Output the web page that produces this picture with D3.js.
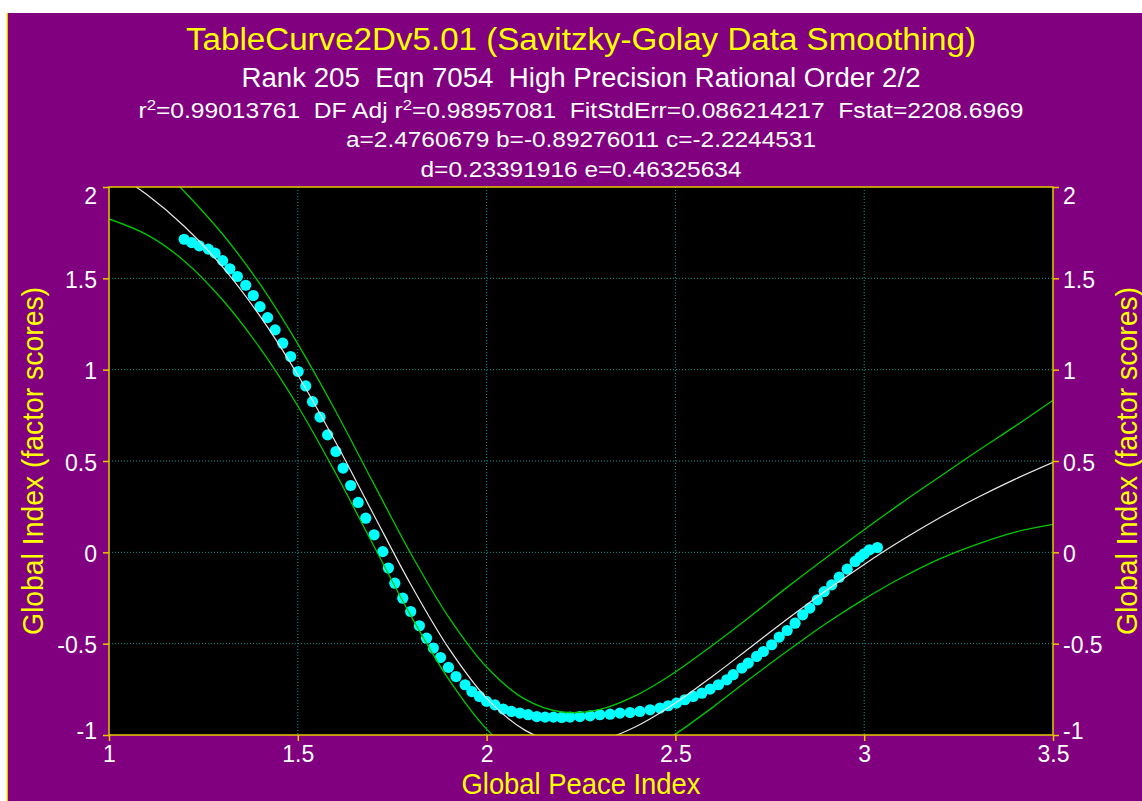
<!DOCTYPE html>
<html>
<head>
<meta charset="utf-8">
<script src="https://cdnjs.cloudflare.com/ajax/libs/d3/7.8.5/d3.min.js"></script>
<style>
  body { margin: 0; background: #ffffff; }
  svg text { font-family: "Liberation Sans", Arial, sans-serif; }
</style>
</head>
<body>
<div id="wrapper"></div>
<script>
// tick values and labels
const xTicks = [1, 1.5, 2, 2.5, 3, 3.5];
const xTickLabels = ["1", "1.5", "2", "2.5", "3", "3.5"];
const yTicks = [-1, -0.5, 0, 0.5, 1, 1.5, 2];
const yTickLabels = ["-1", "-0.5", "0", "0.5", "1", "1.5", "2"];

// smoothed data points (cyan)
const smoothX = [1.199, 1.219, 1.239, 1.263, 1.281, 1.301, 1.320, 1.340, 1.362, 1.382, 1.400, 1.420, 1.440, 1.460, 1.481, 1.501, 1.521, 1.539, 1.559, 1.579, 1.601, 1.620, 1.640, 1.660, 1.680, 1.702,
  1.725, 1.740, 1.757, 1.778, 1.799, 1.822, 1.841, 1.859, 1.878, 1.899, 1.919, 1.943, 1.961, 1.981, 2.000,
  2.022, 2.044, 2.066, 2.088, 2.110, 2.133, 2.155, 2.177, 2.199, 2.221,
  2.247, 2.274, 2.300, 2.327, 2.353, 2.380, 2.406, 2.433, 2.459,
  2.481, 2.503, 2.525, 2.547, 2.570, 2.592, 2.614, 2.636, 2.653, 2.676, 2.693, 2.715, 2.733, 2.755,
  2.775, 2.796, 2.817, 2.837, 2.856, 2.876, 2.894, 2.914, 2.934, 2.955, 2.976, 2.989, 3.000, 3.014, 3.035];
const smoothY = [1.714, 1.696, 1.678, 1.660, 1.638, 1.597, 1.552, 1.510, 1.462, 1.406, 1.345, 1.285, 1.218, 1.145, 1.072, 0.990, 0.911, 0.825, 0.740, 0.643, 0.552, 0.461, 0.366, 0.273, 0.187, 0.096,
  0.004, -0.086, -0.169, -0.251, -0.324, -0.402, -0.470, -0.524, -0.576, -0.630, -0.680, -0.725, -0.762, -0.789, -0.816,
  -0.835, -0.858, -0.871, -0.880, -0.889, -0.899, -0.902, -0.902, -0.904, -0.902,
  -0.899, -0.895, -0.889, -0.886, -0.880, -0.877, -0.871, -0.862, -0.853,
  -0.840, -0.825, -0.807, -0.789, -0.771, -0.749, -0.725, -0.698, -0.670, -0.634, -0.606, -0.570, -0.543, -0.506,
  -0.464, -0.428, -0.388, -0.342, -0.305, -0.260, -0.215, -0.178, -0.136, -0.092, -0.050, -0.026, -0.008, 0.014, 0.026];

// fitted curve (white) and its limits (green)
const curveX = [1.0, 1.1, 1.2, 1.3, 1.4, 1.5, 1.6, 1.7, 1.8, 1.9, 2.0, 2.1, 2.2, 2.3, 2.4, 2.5, 2.6, 2.7, 2.8, 2.9, 3.0, 3.1, 3.2, 3.3, 3.4, 3.5];
const fitY = [2.095, 1.959, 1.784, 1.564, 1.293, 0.971, 0.604, 0.210, -0.179, -0.526, -0.798, -0.972, -1.044, -1.030, -0.949, -0.825, -0.676, -0.518, -0.360, -0.208, -0.066, 0.067, 0.189, 0.300, 0.401, 0.493];
const upperY = [2.365, 2.179, 1.974, 1.744, 1.468, 1.141, 0.774, 0.380, -0.009, -0.356, -0.628, -0.802, -0.874, -0.860, -0.779, -0.655, -0.506, -0.348, -0.185, -0.028, 0.124, 0.272, 0.414, 0.555, 0.691, 0.833];
const lowerY = [1.825, 1.739, 1.594, 1.384, 1.118, 0.801, 0.434, 0.040, -0.349, -0.696, -0.968, -1.142, -1.214, -1.200, -1.119, -0.995, -0.846, -0.688, -0.535, -0.388, -0.256, -0.138, -0.036, 0.045, 0.111, 0.153];

const yellow = "#ffff00";
const axisColor = "#e8c800";
const sp = "\u00a0"; // the header keeps its double spaces

function drawChart() {
  const dimensions = {
    width: 1142,
    height: 801,
    margin: { top: 187, right: 89, bottom: 66, left: 109 },
  };
  dimensions.boundedWidth = dimensions.width - dimensions.margin.left - dimensions.margin.right;
  dimensions.boundedHeight = dimensions.height - dimensions.margin.top - dimensions.margin.bottom;
  const cx = dimensions.margin.left + dimensions.boundedWidth / 2;

  const svg = d3.select("#wrapper").append("svg")
    .attr("width", dimensions.width)
    .attr("height", dimensions.height)
    .style("display", "block");

  // purple panel
  svg.append("rect")
    .attr("x", 7).attr("y", 13)
    .attr("width", dimensions.width - 7).attr("height", dimensions.height - 13)
    .attr("fill", "#800080");
  svg.append("line")
    .attr("x1", 7).attr("x2", 7).attr("y1", 13).attr("y2", dimensions.height)
    .attr("stroke", yellow).attr("stroke-width", 1.5);

  // header text
  const header = svg.append("g").attr("text-anchor", "middle");
  header.append("text")
    .attr("x", cx).attr("y", 50)
    .attr("fill", yellow).attr("font-size", 31)
    .attr("textLength", 790).attr("lengthAdjust", "spacingAndGlyphs")
    .text("TableCurve2Dv5.01 (Savitzky-Golay Data Smoothing)");
  header.append("text")
    .attr("x", cx).attr("y", 87)
    .attr("fill", "white").attr("font-size", 27)
    .attr("textLength", 679).attr("lengthAdjust", "spacingAndGlyphs")
    .text(`Rank 205${sp} Eqn 7054${sp} High Precision Rational Order 2/2`);

  const statParts = [
    ["r", false], ["2", true], [`=0.99013761${sp} DF Adj r`, false], ["2", true],
    [`=0.98957081${sp} FitStdErr=0.086214217${sp} Fstat=2208.6969`, false],
  ];
  const stats = header.append("text")
    .attr("x", cx).attr("y", 118)
    .attr("fill", "white").attr("font-size", 22)
    .attr("textLength", 885).attr("lengthAdjust", "spacingAndGlyphs");
  let raised = false;
  statParts.forEach(([t, sup]) => {
    const shift = sup === raised ? 0 : (sup ? -8 : 8);
    raised = sup;
    stats.append("tspan")
      .attr("dy", shift)
      .attr("font-size", sup ? 15 : 22)
      .text(t);
  });

  header.append("text")
    .attr("x", cx).attr("y", 147)
    .attr("fill", "white").attr("font-size", 22)
    .attr("textLength", 470).attr("lengthAdjust", "spacingAndGlyphs")
    .text("a=2.4760679 b=-0.89276011 c=-2.2244531");
  header.append("text")
    .attr("x", cx).attr("y", 177)
    .attr("fill", "white").attr("font-size", 22)
    .attr("textLength", 321).attr("lengthAdjust", "spacingAndGlyphs")
    .text("d=0.23391916 e=0.46325634");

  const bounds = svg.append("g")
    .attr("transform", `translate(${dimensions.margin.left},${dimensions.margin.top})`);

  const xScale = d3.scaleLinear()
    .domain([1, 3.5])
    .range([0, dimensions.boundedWidth]);
  const yScale = d3.scaleLinear()
    .domain([-1, 2])
    .range([dimensions.boundedHeight, 0]);

  bounds.append("rect")
    .attr("width", dimensions.boundedWidth)
    .attr("height", dimensions.boundedHeight)
    .attr("fill", "black");

  bounds.append("clipPath").attr("id", "plotClip")
    .append("rect")
    .attr("width", dimensions.boundedWidth)
    .attr("height", dimensions.boundedHeight);

  // dotted grid
  const grid = bounds.append("g")
    .attr("stroke", "#009a9a").attr("stroke-width", 1).attr("stroke-dasharray", "1,2");
  grid.selectAll(".gx").data(xTicks.slice(1, -1)).join("line")
    .attr("x1", d => xScale(d)).attr("x2", d => xScale(d))
    .attr("y1", 0).attr("y2", dimensions.boundedHeight);
  grid.selectAll(".gy").data(yTicks.slice(1, -1)).join("line")
    .attr("y1", d => yScale(d)).attr("y2", d => yScale(d))
    .attr("x1", 0).attr("x2", dimensions.boundedWidth);

  const plot = bounds.append("g").attr("clip-path", "url(#plotClip)");

  // smoothed points
  const points = d3.zip(smoothX, smoothY);
  plot.selectAll("circle").data(points).join("circle")
    .attr("cx", d => xScale(d[0]))
    .attr("cy", d => yScale(d[1]))
    .attr("r", 5.6)
    .attr("fill", "#00ffff");

  const lineGenerator = ys => d3.line()
    .x((d, i) => xScale(curveX[i]))
    .y(d => yScale(d))
    .curve(d3.curveCatmullRom)(ys);

  plot.append("path")
    .attr("d", lineGenerator(upperY))
    .attr("fill", "none").attr("stroke", "#00c800").attr("stroke-width", 1.3);
  plot.append("path")
    .attr("d", lineGenerator(lowerY))
    .attr("fill", "none").attr("stroke", "#00c800").attr("stroke-width", 1.3);
  plot.append("path")
    .attr("d", lineGenerator(fitY))
    .attr("fill", "none").attr("stroke", "#e8e8e8").attr("stroke-width", 1.2);

  // axes
  const yAxisLeft = d3.axisLeft(yScale)
    .tickValues(yTicks).tickSize(6).tickPadding(6)
    .tickFormat((d, i) => yTickLabels[i]);
  const yAxisRight = d3.axisRight(yScale)
    .tickValues(yTicks).tickSize(6).tickPadding(4)
    .tickFormat((d, i) => yTickLabels[i]);
  const xAxis = d3.axisBottom(xScale)
    .tickValues(xTicks).tickSize(6).tickPadding(5)
    .tickFormat((d, i) => xTickLabels[i]);

  const styleAxis = g => {
    g.select(".domain").remove();
    g.selectAll(".tick line").attr("stroke", axisColor).attr("stroke-width", 1.5);
    g.selectAll(".tick text")
      .attr("fill", "white")
      .attr("font-size", 23)
      .attr("font-family", "'Liberation Sans', Arial, sans-serif");
  };

  const shiftEnds = g => {
    g.selectAll(".tick text").attr("dy", d => d === 2 ? "0.72em" : d === -1 ? "0.15em" : "0.4em");
  };

  bounds.append("g").call(yAxisLeft).call(styleAxis).call(shiftEnds);
  bounds.append("g")
    .attr("transform", `translate(${dimensions.boundedWidth},0)`)
    .call(yAxisRight).call(styleAxis).call(shiftEnds);
  bounds.append("g")
    .attr("transform", `translate(0,${dimensions.boundedHeight})`)
    .call(xAxis).call(styleAxis);

  // frame
  bounds.append("rect")
    .attr("width", dimensions.boundedWidth)
    .attr("height", dimensions.boundedHeight)
    .attr("fill", "none")
    .attr("stroke", axisColor)
    .attr("stroke-width", 1.5);

  // axis titles
  svg.append("text")
    .attr("x", cx).attr("y", 794)
    .attr("text-anchor", "middle")
    .attr("fill", yellow).attr("font-size", 29)
    .attr("textLength", 239).attr("lengthAdjust", "spacingAndGlyphs")
    .text("Global Peace Index");

  [43, 1137].forEach(x => {
    svg.append("text")
      .attr("transform", `translate(${x},461) rotate(-90)`)
      .attr("text-anchor", "middle")
      .attr("fill", yellow).attr("font-size", 29)
      .attr("textLength", 348).attr("lengthAdjust", "spacingAndGlyphs")
      .text("Global Index (factor scores)");
  });
}

drawChart();
</script>
</body>
</html>
